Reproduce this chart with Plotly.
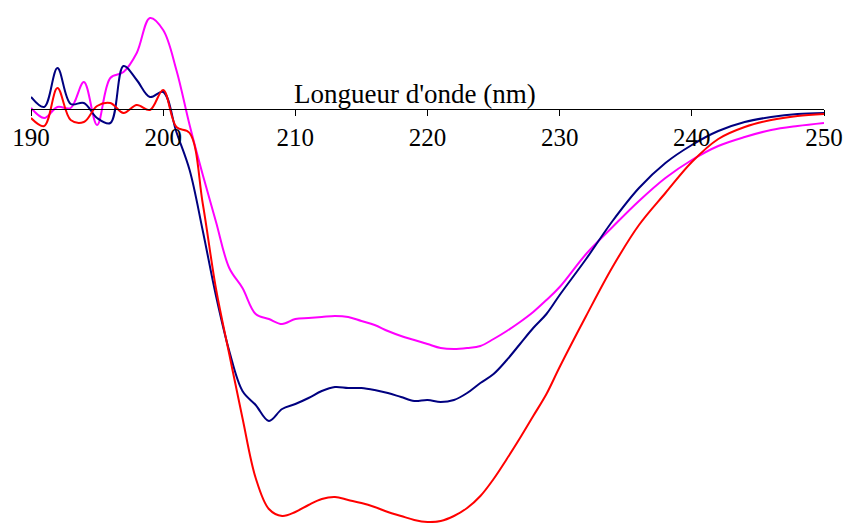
import plotly.graph_objects as go

wavelength = [190, 191, 192, 193, 194, 195, 196, 197, 198, 199, 200, 201, 202, 203, 204, 205,
              206, 207, 208, 209, 210, 211, 212, 213, 214, 215, 216, 217, 218, 219, 220, 221,
              222, 223, 224, 225, 226, 227, 228, 229, 230, 232, 234, 236, 238, 240, 242, 244,
              246, 248, 250]

navy_series = [1.2, 0.2, 4.1, 0.5, 0.6, -0.9, -1.4, 4.3, 2.9, 1.2, 1.7, -2.3, -6.1, -12.2, -18.7, -24.2,
               -28.2, -29.6, -31.2, -30.0, -29.5, -28.9, -28.2, -27.8, -27.9, -27.9, -28.1, -28.4, -28.8, -29.2, -29.1, -29.3,
               -29.1, -28.4, -27.4, -26.5, -25.1, -23.5, -21.9, -20.5, -18.6, -15.0, -11.2, -7.9, -5.4, -3.6, -2.2, -1.3,
               -0.8, -0.5, -0.4]

red_series = [-0.9, -1.7, 2.1, -1.1, -1.3, 0.3, 0.6, -0.4, 0.4, -0.1, 1.9, -1.8, -2.4, -9.5, -18.0, -24.5,
              -30.9, -36.9, -40.0, -40.7, -40.3, -39.6, -39.0, -38.8, -39.1, -39.4, -39.8, -40.3, -40.7, -41.1, -41.3, -41.2,
              -40.7, -39.9, -38.7, -37.0, -35.0, -32.9, -30.7, -28.5, -25.8, -20.7, -15.8, -11.6, -8.4, -5.3, -3.0, -1.8,
              -1.1, -0.7, -0.5]

magenta_series = [0.1, -0.9, 0.2, 0.1, 2.7, -1.6, 3.1, 3.7, 5.6, 9.1, 7.9, 3.9, -1.6, -6.6, -11.3, -15.9,
                  -17.9, -20.5, -21.0, -21.5, -21.0, -20.9, -20.8, -20.7, -20.8, -21.2, -21.6, -22.2, -22.7, -23.1, -23.5, -23.9,
                  -24.0, -23.9, -23.7, -23.0, -22.2, -21.3, -20.3, -19.1, -17.8, -14.5, -11.8, -9.2, -6.9, -5.1, -3.7, -2.8,
                  -2.1, -1.7, -1.4]

tick_values = [190, 200, 210, 220, 230, 240, 250]
axis_title = "Longueur d'onde (nm)"

y_min, y_max = -41.4, 10.9
serif = "Liberation Serif"

fig = go.Figure()
for ys, col in [(magenta_series, "#FF00FF"), (navy_series, "#000080"), (red_series, "#FF0000")]:
    fig.add_trace(go.Scatter(x=wavelength, y=ys, mode="lines",
                             line=dict(color=col, width=2, shape="spline", smoothing=1),
                             showlegend=False, hoverinfo="skip"))

zero_pos = (0 - y_min) / (y_max - y_min)

fig.update_layout(
    width=846, height=523,
    margin=dict(l=31, r=22, t=0, b=0, autoexpand=False),
    paper_bgcolor="white", plot_bgcolor="white",
    xaxis=dict(range=[190, 250], tickvals=tick_values, ticktext=[str(t) for t in tick_values],
               showgrid=False, zeroline=False, showline=True, linecolor="black", linewidth=1.3,
               ticks="outside", ticklen=6, tickcolor="black", tickwidth=1.3,
               anchor="free", position=zero_pos, automargin=False,
               tickfont=dict(family=serif, size=25, color="black")),
    yaxis=dict(range=[y_min, y_max], visible=False, automargin=False),
    annotations=[dict(text=axis_title, xref="paper", yref="paper",
                      x=(415 - 31) / (846 - 31 - 22), y=zero_pos, xanchor="center", yanchor="bottom",
                      yshift=-2, showarrow=False,
                      font=dict(family=serif, size=27, color="black"))],
)

fig.write_html("out.html", config={"displayModeBar": False},
               post_script="document.body.style.margin='0';document.body.style.overflow='hidden';")
